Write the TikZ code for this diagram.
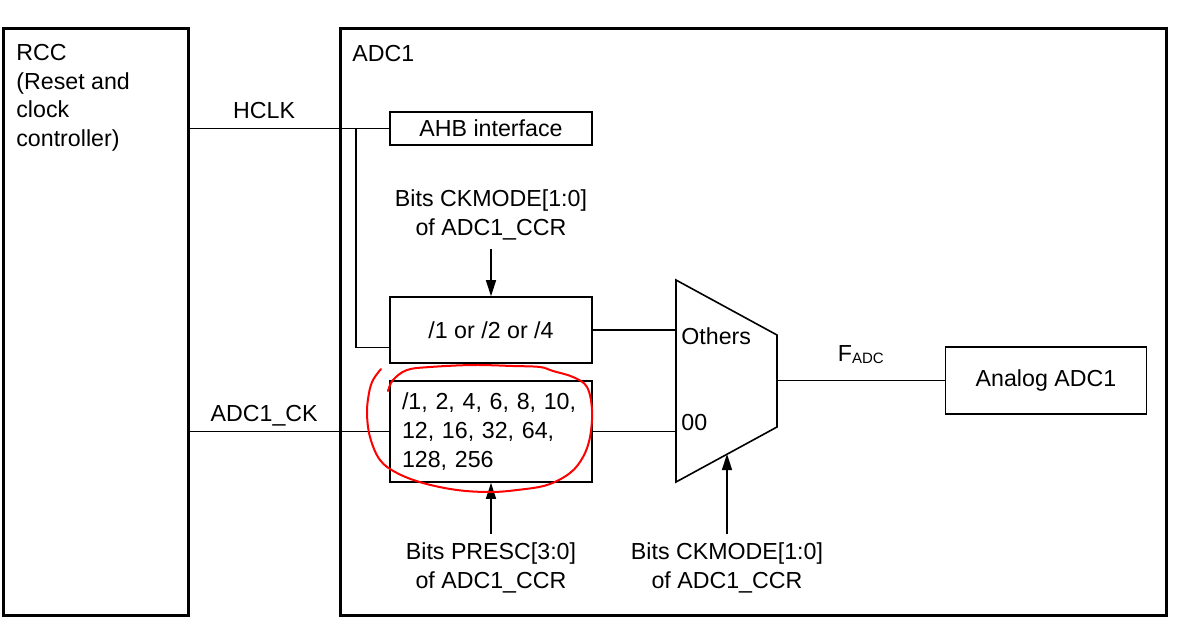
\documentclass[tikz,border=0pt]{standalone}
\usepackage{fontspec}
\setmainfont{Liberation Sans}
\usetikzlibrary{arrows.meta}

\begin{document}
\begin{tikzpicture}[x=0.5pt,y=-0.5pt,
    font=\fontsize{11.6}{14.3}\selectfont,
    blockbox/.style={draw,line width=1.5pt,inner sep=0pt},
    unitbox/.style={draw,line width=0.8pt,minimum width=101pt,inner sep=0pt},
    wire/.style={line width=0.6pt},
    ctrl/.style={line width=0.8pt,-{Triangle[length=8pt,width=5pt]}},
    bits/.style={align=center,inner sep=0pt,outer sep=4.5pt,anchor=north},
    sig/.style={above=1.5pt,pos=0.374,text depth=0pt}]
  \useasboundingbox (0,0) rectangle (1179,629);
  % RCC
  \node[blockbox,minimum width=92.5pt,minimum height=293.5pt] (rcc) at (95.5,321.5) {};
  \node[anchor=north west,align=left,inner sep=0pt] (rcc-txt) at (16,44)
    {RCC\\(Reset and\\clock\\controller)};
  % ADC1
  \node[blockbox,minimum width=413pt,minimum height=293.5pt] (adc) at (753,321.5) {};
  \node[anchor=north west,inner sep=0pt] (adc-txt) at (352,45) {ADC1};
  % inner blocks
  \node[unitbox,minimum height=16.5pt] (ahb) at (491,128.5) {AHB interface};
  \node[unitbox,minimum height=33pt] (div) at (491,330) {/1 or /2 or /4};
  \node[unitbox,minimum height=50.5pt,text width=89pt,align=left,inner xsep=6pt]
    (presc) at (491,431.5) {/1, 2, 4, 6, 8, 10,\\12, 16, 32, 64,\\128, 256};
  \node[unitbox,minimum width=100.5pt,minimum height=33.5pt] (analog) at (1046,380.5)
    {Analog ADC1};
  % Mux
  \draw[line width=0.8pt] (676,280) -- (777,335) -- (777,427) -- (676,482) -- cycle;
  \coordinate (mux-in1) at (676,330);
  \coordinate (mux-in2) at (676,431.5);
  \coordinate (mux-out) at (777,380.5);
  \coordinate (mux-sel) at (727,454);
  \node[anchor=base west,inner sep=0pt] (others) at (681,344) {Others};
  \node[anchor=base west,inner sep=0pt] (sel-00) at (681,430) {00};
  % HCLK
  \draw[wire] (rcc.east |- ahb.west) -- node[sig] {HCLK} (ahb.west);
  \coordinate (tap) at (356,128.5);
  \coordinate (div-tap) at ([yshift=8pt]div.south west);
  \draw[wire] (tap) |- (div-tap);
  % ADC1_CK
  \draw[wire] (rcc.east |- presc.west) -- node[sig] {ADC1\_CK} (presc.west);
  % to mux and analog
  \draw[wire] (div.east) -- (mux-in1);
  \draw[wire] (presc.east) -- (mux-in2);
  \draw[wire] (mux-out) -- node[above=6pt,text depth=0pt]
    {F\raisebox{-1pt}{\fontsize{7.5}{9}\selectfont ADC}} (analog.west);
  % control bits
  \node[bits] (ckmode-top) at (491,181) {Bits CKMODE[1:0]\\of ADC1\_CCR};
  \draw[ctrl] (ckmode-top.south) -- (div.north);
  \node[bits] (presc-bits) at (491,534) {Bits PRESC[3:0]\\of ADC1\_CCR};
  \draw[ctrl] (presc-bits.north) -- (presc.south);
  \node[bits] (ckmode-bot) at (727,534) {Bits CKMODE[1:0]\\of ADC1\_CCR};
  \draw[ctrl] (ckmode-bot.north) -- (mux-sel);
  % red mark
  \draw[red,line width=1pt,line cap=round,line join=round] plot[smooth,tension=0.6]
    coordinates {(388,391) (393,380) (407,370) (430,367) (473,365) (513,366) (540,367)
    (553,371) (573,377) (587,387) (592,410) (590,437) (583,457) (570,473) (547,485)
    (517,490) (490,492) (457,490) (423,483) (397,473) (380,460) (370,437) (367,413)
    (369,393) (373,380) (381,369)};
\end{tikzpicture}
\end{document}
